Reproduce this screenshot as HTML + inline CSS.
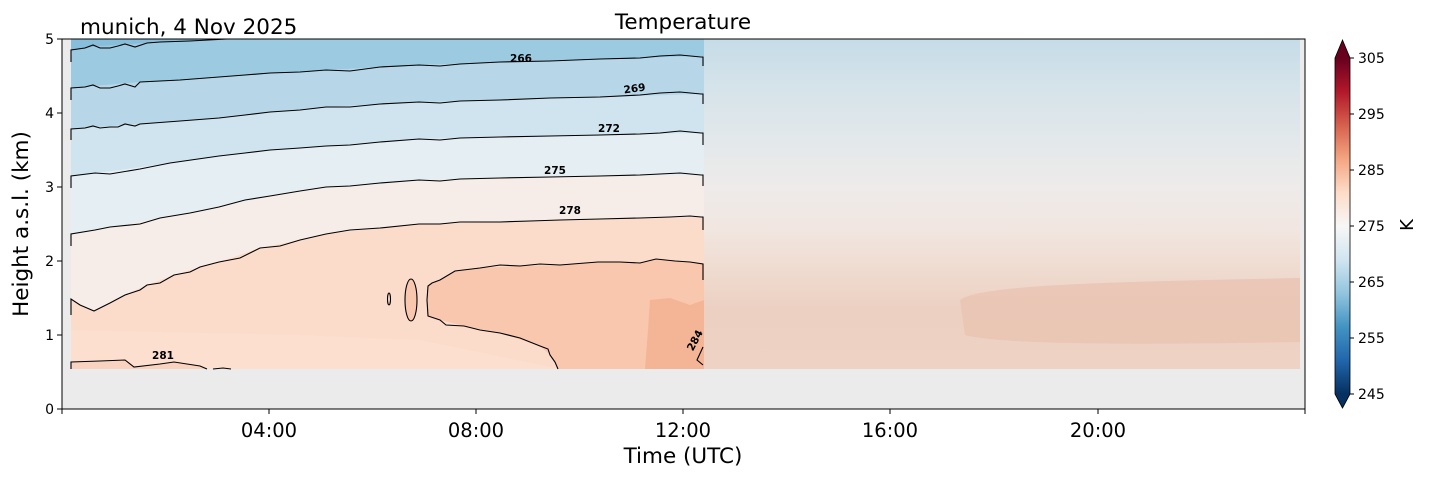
<!DOCTYPE html>
<html><head><meta charset="utf-8"><style>
html,body{margin:0;padding:0;background:#fff;}
svg{display:block;font-family:"DejaVu Sans","Liberation Sans",sans-serif;}
</style></head><body>
<svg width="1429" height="478" viewBox="0 0 1429 478" xmlns="http://www.w3.org/2000/svg">
<defs>
<linearGradient id="rg" x1="0" y1="39" x2="0" y2="369" gradientUnits="userSpaceOnUse">
<stop offset="0" stop-color="#c5dce7"/>
<stop offset="0.12" stop-color="#d3e2ea"/>
<stop offset="0.3" stop-color="#e2e8eb"/>
<stop offset="0.45" stop-color="#eeebea"/>
<stop offset="0.58" stop-color="#f1e6e0"/>
<stop offset="0.7" stop-color="#efdbd0"/>
<stop offset="0.82" stop-color="#ecd0c2"/>
<stop offset="1" stop-color="#eed3c5"/>
</linearGradient>
<linearGradient id="cb" x1="0" y1="394" x2="0" y2="58" gradientUnits="userSpaceOnUse">
<stop offset="0" stop-color="#053061"/><stop offset="0.1" stop-color="#2166ac"/>
<stop offset="0.2" stop-color="#4393c3"/><stop offset="0.3" stop-color="#92c5de"/>
<stop offset="0.4" stop-color="#d1e5f0"/><stop offset="0.5" stop-color="#f7f7f7"/>
<stop offset="0.6" stop-color="#fddbc7"/><stop offset="0.7" stop-color="#f4a582"/>
<stop offset="0.8" stop-color="#d6604d"/><stop offset="0.9" stop-color="#b2182b"/>
<stop offset="1" stop-color="#67001f"/>
</linearGradient>
</defs>
<rect x="62" y="39" width="1243" height="370" fill="#ebebeb"/>
<rect x="71" y="39" width="633" height="330" fill="#fbdccb"/>
<polygon points="71,369 71,330 300,335 420,340 560,369" fill="#fcdfd0" opacity="0.7"/>
<polygon points="704,264 690,262 656,259 640,263 598,262 560,265 520,266 480,268 455,271 440,280 428,286 428,316 440,320 464,326 500,333 540,346 550,355 558,369 704,369" fill="#f8c7ae"/>
<polygon points="650,300 670,298 690,305 704,300 704,369 645,369 648,330" fill="#f4b597"/>
<ellipse cx="411" cy="300" rx="6" ry="21" fill="#f8c7ae"/>
<polygon points="71,369 71,362 100,361 125,360 134,367 160,364 174,362 200,366 207,369" fill="#f9d3bf"/>
<polygon points="71,39 71,299 80,305 94,311 110,303 125,295 147,285 174,275 200,267 219,262 260,248 300,240 326,234 360,230 419,224 500,222 560,220 640,218 701,217 704,217 704,39" fill="#f6ece8"/>
<polygon points="71,39 71,234 120,226 160,218 219,207 270,196 326,187 380,184 419,180 500,178 600,176 701,175 704,175 704,39" fill="#e5eef3"/>
<polygon points="71,39 71,176 120,170 170,163 219,156 270,150 326,146 380,142 419,139 500,137 600,135 701,133 704,133 704,39" fill="#d0e4ef"/>
<polygon points="71,39 71,129 140,124 219,118 270,112 326,107 380,104 419,102 500,100 600,97 701,94 704,94 704,39" fill="#b7d7e9"/>
<polygon points="71,39 71,88 140,82 219,77 270,73 326,70 380,67 419,65 500,62 600,59 701,56 704,56 704,39" fill="#9bcae1"/>
<polygon points="71,39 71,50 100,46 147,43 190,41 227,39" fill="#87bedb"/>
<rect x="704" y="39" width="596" height="330" fill="url(#rg)"/>
<path d="M960,300 C980,285 1100,282 1300,278 L1300,342 C1150,345 1000,345 965,335 Z" fill="#e9c3b1" opacity="0.8"/>
<g fill="none" stroke="#000" stroke-width="1.1">
<polyline points="71,62 71,50 85,48 93,45 100,48 110,48 118,46 125,44 135,47 147,43 160,42 190,41 227,39"/>
<polyline points="71,100 71,88 85,87 93,85 100,88 110,88 118,86 125,84 135,87 140,82 180,80 219,77 245,75 270,73 300,72 326,70 350,71 380,67 419,65 440,66 460,64 500,62 550,61 600,59 640,58 660,56 680,55 701,57 703,57 703,66"/>
<polyline points="71,140 71,129 85,128 93,126 100,128 110,127 118,127 125,124 135,126 140,124 180,121 219,118 245,115 270,112 300,110 326,107 350,107 380,104 419,102 440,103 460,101 500,100 550,98 600,97 640,95 660,93 680,92 701,94 703,94 703,104"/>
<polyline points="71,188 71,176 95,173 110,174 140,169 170,163 219,156 245,153 270,150 300,148 326,146 350,145 380,142 419,139 440,140 460,138 500,137 550,136 600,135 640,134 660,133 680,131 701,133 703,133 703,145"/>
<polyline points="71,246 71,234 95,230 110,227 140,224 160,218 190,213 219,207 245,200 270,196 300,191 326,187 350,186 380,183 419,180 440,181 460,179 500,178 550,177 600,176 640,175 660,174 680,173 701,175 703,175 703,186"/>
<polyline points="71,315 71,299 80,305 94,311 110,303 125,295 140,290 147,285 160,283 174,275 190,272 200,267 219,262 240,258 260,248 280,246 300,240 326,234 350,230 380,228 419,224 440,224 460,222 500,222 530,221 560,220 600,219 640,218 670,217 690,216 701,217 703,217 703,230"/>
<polyline points="703,280 703,264 690,262 675,261 656,259 640,263 620,262 598,262 560,265 540,264 520,266 500,265 480,268 455,271 440,280 432,283 428,286 427,300 428,316 440,320 446,325 464,326 480,330 500,333 520,338 540,346 548,349 550,355 555,362 558,369"/>
<ellipse cx="411" cy="300" rx="6" ry="21"/>
<ellipse cx="389" cy="299" rx="1.5" ry="6"/>
<polyline points="71,369 71,362 100,361 125,360 134,367 160,364 174,362 200,366 207,369"/>
<polyline points="213,369 223,368 231,369"/>
<polyline points="703,347 697,360 703,365"/>
</g>
<g font-size="10.5" font-weight="bold" fill="#000">
<text x="521" y="62" text-anchor="middle">266</text>
<text x="635" y="92" text-anchor="middle" transform="rotate(-8 635 92)">269</text>
<text x="609" y="132" text-anchor="middle">272</text>
<text x="555" y="174" text-anchor="middle">275</text>
<text x="570" y="214" text-anchor="middle">278</text>
<text x="163" y="359" text-anchor="middle">281</text>
<text x="698" y="342" text-anchor="middle" transform="rotate(-62 698 342)">284</text>
</g>
<rect x="62" y="39" width="1243" height="370" fill="none" stroke="#000" stroke-width="1"/>
<g stroke="#000" stroke-width="1">
<line x1="57" y1="409" x2="62" y2="409"/><line x1="57" y1="335" x2="62" y2="335"/>
<line x1="57" y1="261" x2="62" y2="261"/><line x1="57" y1="187" x2="62" y2="187"/>
<line x1="57" y1="113" x2="62" y2="113"/><line x1="57" y1="39" x2="62" y2="39"/>
<line x1="62" y1="409" x2="62" y2="414"/><line x1="269" y1="409" x2="269" y2="414"/>
<line x1="476" y1="409" x2="476" y2="414"/><line x1="683" y1="409" x2="683" y2="414"/>
<line x1="890" y1="409" x2="890" y2="414"/><line x1="1098" y1="409" x2="1098" y2="414"/>
<line x1="1305" y1="409" x2="1305" y2="414"/>
</g>
<g font-size="14" fill="#000" text-anchor="end">
<text x="54" y="414">0</text><text x="54" y="340">1</text><text x="54" y="266">2</text>
<text x="54" y="192">3</text><text x="54" y="118">4</text><text x="54" y="44">5</text>
</g>
<g font-size="19.5" fill="#000" text-anchor="middle">
<text x="269" y="437">04:00</text><text x="476" y="437">08:00</text><text x="683" y="437">12:00</text>
<text x="890" y="437">16:00</text><text x="1098" y="437">20:00</text>
</g>
<text x="683" y="463" font-size="21.5" text-anchor="middle">Time (UTC)</text>
<text x="28" y="224" font-size="21.5" text-anchor="middle" transform="rotate(-90 28 224)">Height a.s.l. (km)</text>
<text x="683" y="29" font-size="21.5" text-anchor="middle">Temperature</text>
<text x="80" y="34" font-size="21.5">munich, 4 Nov 2025</text>
<rect x="1335" y="58" width="15" height="336" fill="url(#cb)"/>
<polygon points="1335,58 1342.5,40 1350,58" fill="#67001f"/>
<polygon points="1335,394 1342.5,408 1350,394" fill="#053061"/>
<polygon points="1335,58 1342.5,40 1350,58 1350,394 1342.5,408 1335,394" fill="none" stroke="#000" stroke-width="0.8"/>
<g stroke="#000" stroke-width="1">
<line x1="1350" y1="58" x2="1354" y2="58"/><line x1="1350" y1="114" x2="1354" y2="114"/>
<line x1="1350" y1="170" x2="1354" y2="170"/><line x1="1350" y1="226" x2="1354" y2="226"/>
<line x1="1350" y1="282" x2="1354" y2="282"/><line x1="1350" y1="338" x2="1354" y2="338"/>
<line x1="1350" y1="394" x2="1354" y2="394"/>
</g>
<g font-size="14" fill="#000">
<text x="1358" y="63">305</text><text x="1358" y="119">295</text><text x="1358" y="175">285</text>
<text x="1358" y="231">275</text><text x="1358" y="287">265</text><text x="1358" y="343">255</text>
<text x="1358" y="399">245</text>
</g>
<text x="1413" y="225" font-size="18" text-anchor="middle" transform="rotate(-90 1413 225)">K</text>
</svg>
</body></html>
